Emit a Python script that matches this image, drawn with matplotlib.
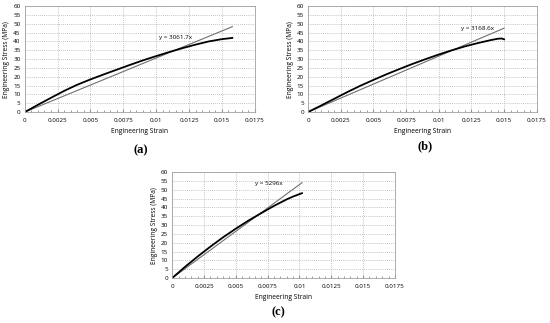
import matplotlib.pyplot as plt
from matplotlib.ticker import MultipleLocator

plt.rcParams["font.family"] = ["Open Sans", "DejaVu Sans"]

# (a)
strain_a = [0, 0.001, 0.002, 0.003, 0.004, 0.005, 0.006, 0.007, 0.008, 0.009,
            0.010, 0.011, 0.012, 0.013, 0.014, 0.015, 0.0158]
stress_a = [0, 4.1, 8.1, 12.0, 15.5, 18.5, 21.3, 24.0, 26.7, 29.3,
            31.7, 34.0, 36.2, 38.2, 40.0, 41.3, 42.0]
slope_a = 3061.7

# (b)
strain_b = [0, 0.001, 0.002, 0.003, 0.004, 0.005, 0.006, 0.007, 0.008, 0.009,
            0.010, 0.011, 0.012, 0.013, 0.014, 0.0145, 0.0148, 0.015]
stress_b = [0, 3.7, 7.5, 11.3, 14.9, 18.2, 21.4, 24.4, 27.3, 30.0,
            32.6, 35.0, 37.2, 39.1, 40.8, 41.5, 41.7, 41.2]
slope_b = 3168.6

# (c)
strain_c = [0, 0.001, 0.002, 0.003, 0.004, 0.005, 0.006, 0.007, 0.008, 0.009, 0.0095, 0.0102]
stress_c = [0, 6.3, 12.2, 17.8, 23.1, 28.0, 32.6, 36.8, 40.9, 44.6, 46.2, 48.1]
slope_c = 5296.0

xticks = [0, 0.0025, 0.005, 0.0075, 0.01, 0.0125, 0.015, 0.0175]
xtick_labels = ["0", "0.0025", "0.005", "0.0075", "0.01", "0.0125", "0.015", "0.0175"]
yticks = list(range(0, 61, 5))

panels = [
    (strain_a, stress_a, slope_a, "y = 3061.7x", (0.0102, 41.5), "(a)", [0.045, 0.653, 0.418, 0.328], (0.255, 0.525)),
    (strain_b, stress_b, slope_b, "y = 3168.6x", (0.0117, 46.5), "(b)", [0.560, 0.653, 0.416, 0.328], (0.773, 0.537)),
    (strain_c, stress_c, slope_c, "y = 5296x", (0.0065, 52.5), "(c)", [0.313, 0.139, 0.405, 0.328], (0.507, 0.025)),
]

fig = plt.figure(figsize=(5.5, 3.23), dpi=100)

for strain, stress, slope, eq, eq_pos, tag, rect, tag_pos in panels:
    ax = fig.add_axes(rect)
    xmax = strain[-1]
    ax.plot([0, xmax], [0, slope * xmax], color="#707070", lw=0.8)
    ax.plot(strain, stress, color="black", lw=1.3)
    ax.text(eq_pos[0], eq_pos[1], eq, fontsize=4.5)
    ax.set_xticks(xticks, xtick_labels)
    ax.set_yticks(yticks)
    ax.xaxis.set_minor_locator(MultipleLocator(0.0005))
    ax.set_xlim(0, 0.0175)
    ax.set_ylim(0, 60)
    ax.grid(True, which="major", ls=(0, (1, 1.5)), color="#b0b0b0", lw=0.6)
    ax.tick_params(which="both", direction="in", labelsize=4.5, length=2, color="#909090", pad=4)
    ax.tick_params(which="minor", length=1.5)
    ax.tick_params(axis="y", length=0, pad=3)
    for s in ax.spines.values():
        s.set_color("#a0a0a0")
        s.set_linewidth(0.6)
    ax.set_xlabel("Engineering Strain", fontsize=4.8, labelpad=4)
    ax.set_ylabel("Engineering Stress (MPa)", fontsize=4.8, labelpad=2)
    fig.text(tag_pos[0], tag_pos[1], tag, fontsize=9, ha="center",
             family=["Liberation Serif", "DejaVu Serif"], weight="bold")

fig.savefig("out.png", dpi=100)
